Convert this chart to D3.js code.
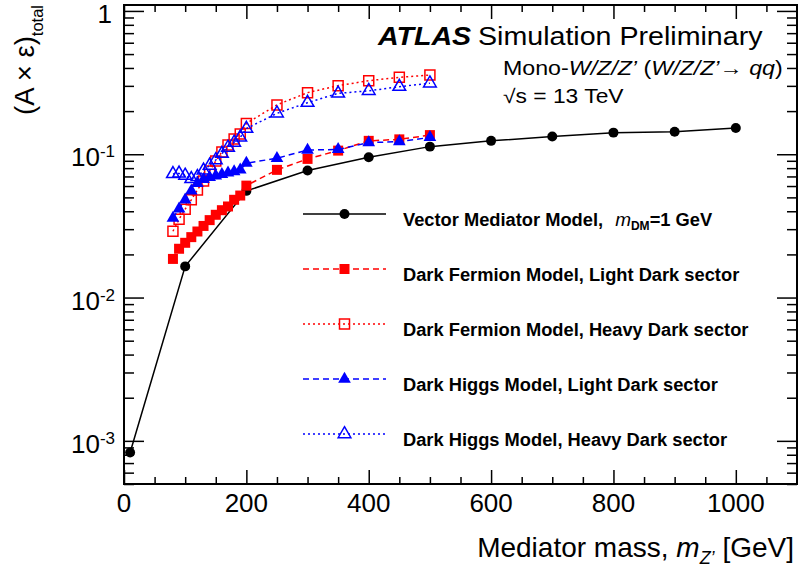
<!DOCTYPE html>
<html>
<head>
<meta charset="utf-8">
<script src="https://cdn.jsdelivr.net/npm/d3@7"></script>
<style>
  html, body { margin: 0; padding: 0; background: #fff; }
  svg text { font-family: "Liberation Sans", Arial, Helvetica, sans-serif; fill: #000; }
</style>
</head>
<body>
<div id="chart"></div>
<script>
// mediator masses (GeV)
const massVector = [10, 100, 200, 300, 400, 500, 600, 700, 800, 900, 1000];
const massDark = [80, 90, 100, 110, 120, 130, 140, 150, 160, 170, 180, 190, 200, 250, 300, 350, 400, 450, 500];

// (A x eps)_total per model
const accVector = [0.00083, 0.0165, 0.0555, 0.0769, 0.0953, 0.113, 0.124, 0.133, 0.1415, 0.1437, 0.1525];
const accFermionLight = [0.0186, 0.0219, 0.0241, 0.0264, 0.0289, 0.0316, 0.0347, 0.0378, 0.0407, 0.0432, 0.0481, 0.0515, 0.0604,
  0.0778, 0.0928, 0.106, 0.124, 0.127, 0.136];
const accFermionHeavy = [0.029, 0.0352, 0.0414, 0.0481, 0.0564, 0.0651, 0.0765, 0.0898, 0.1038, 0.116, 0.128, 0.1385, 0.164,
  0.221, 0.269, 0.301, 0.326, 0.344, 0.357];
const accHiggsLight = [0.0358, 0.0416, 0.0481, 0.0555, 0.0626, 0.0667, 0.0689, 0.0706, 0.0723, 0.0741, 0.0756, 0.0778, 0.0866,
  0.0938, 0.107, 0.108, 0.1205, 0.1225, 0.131];
const accHiggsHeavy = [0.0729, 0.0735, 0.0711, 0.0673, 0.0695, 0.0771, 0.0835, 0.0912, 0.101, 0.1115, 0.1208, 0.131, 0.151,
  0.193, 0.229, 0.266, 0.277, 0.296, 0.313];

const xMajorTicks = [0, 200, 400, 600, 800, 1000];
const yMajorTicks = [1e-3, 1e-2, 1e-1, 1];
const yTickExp = ['-3', '-2', '-1', ''];

const series = [
  { mass: massVector, acc: accVector, color: '#000', dash: null, symbol: 'circle', open: false },
  { mass: massDark, acc: accFermionLight, color: '#ff0000', dash: '6,4', symbol: 'square', open: false },
  { mass: massDark, acc: accFermionHeavy, color: '#ff0000', dash: '2,3', symbol: 'square', open: true },
  { mass: massDark, acc: accHiggsLight, color: '#0000ff', dash: '6,4', symbol: 'triangle', open: false },
  { mass: massDark, acc: accHiggsHeavy, color: '#0000ff', dash: '2,3', symbol: 'triangle', open: true }
];

const W = 798, H = 572;
const plot = { left: 124, right: 797, top: 5, bottom: 484 };

const svg = d3.select('#chart').append('svg')
  .attr('width', W)
  .attr('height', H);

const x = d3.scaleLinear().domain([0, 1100]).range([plot.left, plot.right]);
const y = d3.scaleLog().domain([5e-4, 1.1]).range([plot.bottom, plot.top]);

// minor ticks
const xMinor = d3.range(0, 1101, 50).filter(v => v % 200 !== 0);
const yMinor = [];
[1e-4, 1e-3, 1e-2, 1e-1].forEach(d => {
  for (let k = 2; k <= 9; k++) {
    const v = k * d;
    if (v >= 5e-4 && v <= 1.1) yMinor.push(v);
  }
});

function tickAxis(axis, size, values, transform) {
  const g = svg.append('g')
    .attr('transform', transform)
    .call(axis.tickValues(values).tickSize(size).tickFormat(''));
  g.select('.domain').remove();
  g.selectAll('.tick line').attr('stroke', '#000').attr('stroke-width', 1.5);
}

tickAxis(d3.axisBottom(x), -14, xMajorTicks, `translate(0,${plot.bottom})`);
tickAxis(d3.axisBottom(x), -7, xMinor, `translate(0,${plot.bottom})`);
tickAxis(d3.axisTop(x), -14, xMajorTicks, `translate(0,${plot.top})`);
tickAxis(d3.axisTop(x), -7, xMinor, `translate(0,${plot.top})`);
tickAxis(d3.axisLeft(y), -20, yMajorTicks, `translate(${plot.left},0)`);
tickAxis(d3.axisLeft(y), -10, yMinor, `translate(${plot.left},0)`);
tickAxis(d3.axisRight(y), -20, yMajorTicks, `translate(${plot.right},0)`);
tickAxis(d3.axisRight(y), -10, yMinor, `translate(${plot.right},0)`);

// frame
svg.append('rect')
  .attr('x', plot.left)
  .attr('y', plot.top)
  .attr('width', plot.right - plot.left)
  .attr('height', plot.bottom - plot.top)
  .attr('fill', 'none')
  .attr('stroke', '#000')
  .attr('stroke-width', 2);

// tick labels
svg.append('g').selectAll('text')
  .data(xMajorTicks)
  .join('text')
  .attr('x', d => x(d))
  .attr('y', 512)
  .attr('text-anchor', 'middle')
  .style('font-size', '26px')
  .text(d => d);

const yLab = svg.append('g').selectAll('text')
  .data(yMajorTicks)
  .join('text')
  .attr('x', 115)
  .attr('y', d => y(d) + 12)
  .attr('text-anchor', 'end')
  .style('font-size', '26px');
yLab.each(function(d, i) {
  const t = d3.select(this);
  if (d === 1) { t.attr('x', 112).text('1'); return; }
  t.append('tspan').text('10');
  t.append('tspan').attr('dy', -9).style('font-size', '17px').text(yTickExp[i]);
});

// axis titles
const xt = svg.append('text')
  .attr('x', 794)
  .attr('y', 557)
  .attr('text-anchor', 'end')
  .style('font-size', '28px');
xt.append('tspan').text('Mediator mass, ');
xt.append('tspan').style('font-style', 'italic').text('m');
xt.append('tspan').attr('dy', 7).style('font-size', '18px').style('font-style', 'italic').text('Z\u2019');
xt.append('tspan').attr('dy', -7).text(' [GeV]');

const yt = svg.append('text')
  .attr('transform', 'translate(34,5) rotate(-90)')
  .attr('text-anchor', 'end')
  .style('font-size', '27.5px');
yt.append('tspan').text('(A \u00d7 \u03b5)');
yt.append('tspan').attr('dy', 9).style('font-size', '16.5px').text('total');

// symbols
function symbolPath(kind) {
  if (kind === 'circle') return d3.symbol(d3.symbolCircle, 78)();
  if (kind === 'square') return d3.symbol(d3.symbolSquare, 100)();
  return d3.symbol(d3.symbolTriangle, 70)();
}

function drawMarker(g, s, cx, cy) {
  g.append('path')
    .attr('d', symbolPath(s.symbol))
    .attr('transform', `translate(${cx},${cy})`)
    .attr('fill', s.open ? 'none' : s.color)
    .attr('stroke', s.color)
    .attr('stroke-width', s.open ? 1.5 : 0);
}

const line = d3.line()
  .x(d => x(d[0]))
  .y(d => y(d[1]));

series.forEach(s => {
  const pts = s.mass.map((m, i) => [m, s.acc[i]]);
  svg.append('path')
    .datum(pts)
    .attr('d', line)
    .attr('fill', 'none')
    .attr('stroke', s.color)
    .attr('stroke-width', 1.5)
    .attr('stroke-dasharray', s.dash);
  const g = svg.append('g');
  pts.forEach(p => drawMarker(g, s, x(p[0]), y(p[1])));
});

// legend
const legendY = [214, 269, 324, 379, 434];
series.forEach((s, i) => {
  const ly = legendY[i];
  svg.append('line')
    .attr('x1', 303).attr('x2', 386)
    .attr('y1', ly).attr('y2', ly)
    .attr('stroke', s.color)
    .attr('stroke-width', 1.5)
    .attr('stroke-dasharray', s.dash);
  drawMarker(svg, s, 344.5, ly);
});

const legendText = [
  null,
  'Dark Fermion Model, Light Dark sector',
  'Dark Fermion Model, Heavy Dark sector',
  'Dark Higgs Model, Light Dark sector',
  'Dark Higgs Model, Heavy Dark sector'
];
legendText.forEach((txt, i) => {
  const t = svg.append('text')
    .attr('x', 403)
    .attr('y', legendY[i] + 12)
    .style('font-size', '18.3px')
    .style('font-weight', 'bold');
  if (txt) { t.text(txt); return; }
  t.append('tspan').text('Vector Mediator Model,');
  t.append('tspan').attr('dx', 12).style('font-style', 'italic').style('font-weight', 'normal').style('font-size', '19px').text('m');
  t.append('tspan').attr('dy', 4).style('font-size', '12px').text('DM');
  t.append('tspan').attr('dy', -4).text('=1 GeV');
});

// labels (ROOT Helvetica runs wider than Liberation, so stretch horizontally)
svg.append('text')
  .attr('transform', 'translate(378,45) scale(1.1,1)')
  .style('font-size', '26px')
  .style('font-weight', 'bold')
  .style('font-style', 'italic')
  .text('ATLAS');
svg.append('text')
  .attr('transform', 'translate(478,45) scale(1.1,1)')
  .style('font-size', '26px')
  .text('Simulation Preliminary');

const mono = svg.append('text')
  .attr('transform', 'translate(503,75) scale(1.19,1)')
  .style('font-size', '19.5px');
mono.append('tspan').text('Mono-');
mono.append('tspan').style('font-style', 'italic').text('W/Z/Z\u2019');
mono.append('tspan').text(' (');
mono.append('tspan').style('font-style', 'italic').text('W/Z/Z\u2019');
mono.append('tspan').text('\u2192 ');
mono.append('tspan').style('font-style', 'italic').text('qq');
mono.append('tspan').text(')');

svg.append('text')
  .attr('transform', 'translate(503,103) scale(1.17,1)')
  .style('font-size', '19.5px')
  .text('\u221as = 13 TeV');
</script>
</body>
</html>
